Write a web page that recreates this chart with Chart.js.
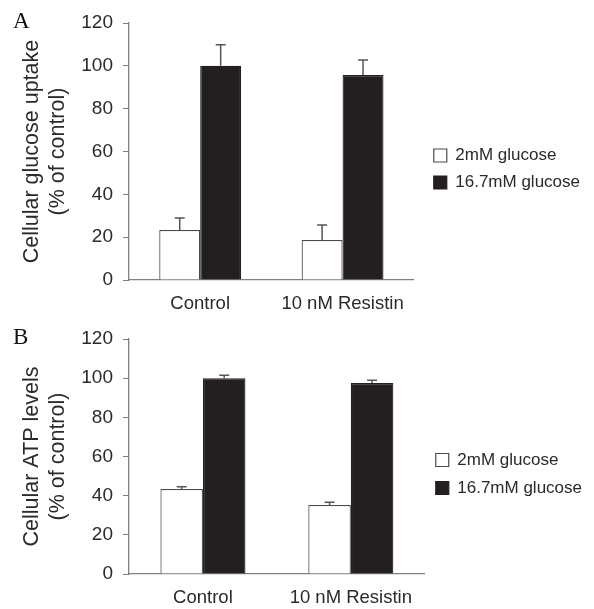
<!DOCTYPE html>
<html>
<head>
<meta charset="utf-8">
<script src="https://cdn.jsdelivr.net/npm/chart.js@4.4.1/dist/chart.umd.min.js"></script>
<style>
  body { margin: 0; background: #fff; }
  #wrap { position: relative; width: 594px; height: 609px; }
  canvas { position: absolute; left: 0; }
  .panel { position: absolute; left: 13px; font-family: "Liberation Serif", "Times New Roman", serif; font-size: 23px; color: #111; }
</style>
</head>
<body>
<div id="wrap">
  <canvas id="chartA" width="594" height="315" style="top:0"></canvas>
  <canvas id="chartB" width="594" height="294" style="top:315px"></canvas>
  <div class="panel" style="top:8px">A</div>
  <div class="panel" style="top:324px">B</div>
</div>
<script>
var categories = ['Control', '10 nM Resistin'];
var seriesNames = ['2mM glucose', '16.7mM glucose'];

// A: cellular glucose uptake (% of control)
var uptakeLow = [23.3, 18.7];
var uptakeHigh = [100, 95.7];
var uptakeLowErr = [5.6, 7];
var uptakeHighErr = [9.8, 7];

// B: cellular ATP levels (% of control)
var atpLow = [43.4, 35.2];
var atpHigh = [100, 97.5];
var atpLowErr = [1.2, 1.5];
var atpHighErr = [1.5, 1.5];

var yMin = 0, yMax = 120, yStep = 20;

var fontFamily = '"Liberation Sans", Arial, sans-serif';
var textColor = '#2a2a2a';
var axisColor = '#808080';

// petites barres d'erreur (vers le haut seulement)
var errorBars = {
    id: 'errorBars',
    afterDatasetsDraw: function (chart) {
        var ctx = chart.ctx;
        var yScale = chart.scales.y;
        ctx.save();
        ctx.strokeStyle = '#555';
        ctx.lineWidth = 1.5;
        chart.data.datasets.forEach(function (ds, i) {
            var meta = chart.getDatasetMeta(i);
            meta.data.forEach(function (bar, j) {
                var top = yScale.getPixelForValue(ds.data[j] + ds.errors[j]);
                ctx.beginPath();
                ctx.moveTo(bar.x, bar.y);
                ctx.lineTo(bar.x, top);
                ctx.moveTo(bar.x - 5, top);
                ctx.lineTo(bar.x + 5, top);
                ctx.stroke();
            });
        });
        ctx.restore();
    }
};

function makeChart(id, title, low, high, lowErr, highErr, opts) {
    var ctx = document.getElementById(id).getContext('2d');
    var scales = {
        x: {
            afterFit: function (scale) { scale.height = opts.xHeight; },
            grid: { display: true, drawOnChartArea: false, drawTicks: false },
            border: { display: true, color: axisColor, width: 1.3 },
            ticks: { padding: 13, color: textColor, font: { family: fontFamily, size: 18.5 } }
        },
        y: {
            min: yMin,
            max: yMax,
            afterFit: function (scale) { scale.width = 129; },
            ticks: { stepSize: yStep, padding: 10, color: textColor, font: { family: fontFamily, size: 19 } },
            grid: { drawOnChartArea: false, drawTicks: true, tickLength: 6, color: axisColor },
            border: { display: true, color: axisColor, width: 1.3 },
            title: {
                display: true,
                text: title,
                color: textColor,
                padding: { top: 19, bottom: 0 },
                font: { family: fontFamily, size: 21.5, lineHeight: 1.2 }
            }
        }
    };
    if (opts.gap) {
        // espace vide entre l'axe x et la légende
        scales.gap = {
            type: 'linear',
            position: 'right',
            afterFit: function (scale) { scale.width = opts.gap; },
            grid: { display: false },
            ticks: { display: false },
            border: { display: false }
        };
    }
    var chart = new Chart(ctx, {
        type: 'bar',
        data: {
            labels: categories,
            datasets: [
                {
                    label: seriesNames[0],
                    data: low,
                    errors: lowErr,
                    backgroundColor: '#ffffff',
                    borderColor: '#4a4a4a',
                    borderWidth: 1.2,
                    borderSkipped: 'bottom'
                },
                {
                    label: seriesNames[1],
                    data: high,
                    errors: highErr,
                    backgroundColor: '#231f20',
                    borderColor: '#231f20',
                    borderWidth: 1.2,
                    borderSkipped: 'bottom'
                }
            ]
        },
        options: {
            responsive: false,
            animation: false,
            layout: { padding: { top: opts.top, right: opts.right, bottom: 0, left: 0 } },
            datasets: { bar: { categoryPercentage: 0.575, barPercentage: 1.0 } },
            plugins: {
                legend: {
                    position: 'right',
                    labels: {
                        boxWidth: 13,
                        boxHeight: 13,
                        padding: opts.legendPad,
                        color: textColor,
                        font: { family: fontFamily, size: 17 }
                    }
                },
                tooltip: { enabled: false }
            },
            scales: scales
        },
        plugins: [errorBars]
    });
    // la légende est limitée à un quart de la largeur par défaut : on lui laisse la place
    var legend = chart.legend;
    var origUpdate = legend.update;
    legend.update = function (maxWidth, maxHeight, margins) {
        return origUpdate.call(this, Math.max(maxWidth, 200), maxHeight, margins);
    };
    chart.update();
    return chart;
}

makeChart('chartA', ['Cellular glucose uptake', '(% of control)'],
    uptakeLow, uptakeHigh, uptakeLowErr, uptakeHighErr,
    { top: 23, right: 4, xHeight: 35, legendPad: 10, gap: 10 });

makeChart('chartB', ['Cellular ATP levels', '(% of control)'],
    atpLow, atpHigh, atpLowErr, atpHighErr,
    { top: 24, right: 2, xHeight: 35, legendPad: 11, gap: 0 });
</script>
</body>
</html>
